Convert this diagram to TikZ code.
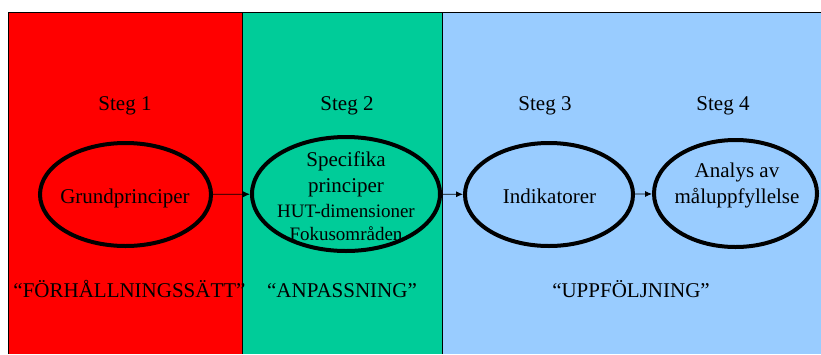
\documentclass[tikz,border=0pt]{standalone}
\usepackage{fontspec}
\setmainfont{Liberation Serif}
\usetikzlibrary{shapes.geometric,arrows.meta}
\definecolor{fasred}{RGB}{255,0,0}
\definecolor{fasgreen}{RGB}{0,204,153}
\definecolor{fasblue}{RGB}{153,204,255}

\begin{document}
\begin{tikzpicture}[x=1pt,y=-1pt,
    fase/.style={draw,ellipse,line width=4pt,inner sep=0pt},
    tekst/.style={anchor=base,inner sep=0pt,font=\fontsize{21}{23}\selectfont},
    flertext/.style={align=center,inner sep=0pt,font=\fontsize{21}{23}\selectfont},
    pil/.style={-{Latex[length=7pt,width=6pt]},line width=0.8pt}]
        \useasboundingbox (0,0) rectangle (821,354);
        % bakgrund
        \fill[fasred] (8,12) rectangle (242,354);
        \fill[fasgreen] (242,12) rectangle (442,354);
        \fill[fasblue] (442,12) rectangle (821,354);
        \draw[line width=1pt] (8,354) -- (8,12) -- (821,12);
        \draw[line width=1pt] (242,12) -- (242,354); \draw[line width=1pt] (442,12) -- (442,354);

        % steg
        \node[tekst] (steg1) at (125,110) {Steg 1};
        \node[tekst] (steg2) at (347,110) {Steg 2};
        \node[tekst] (steg3) at (545,110) {Steg 3};
        \node[tekst] (steg4) at (723,110) {Steg 4};

        % ellipser
        \node[fase,minimum width=171pt,minimum height=103pt] (grund) at (125.5,194.5) {};
        \node[fase,minimum width=188pt,minimum height=114pt] (spec) at (346,194) {};
        \node[fase,minimum width=168pt,minimum height=103pt] (indik) at (549,194.5) {};
        \node[fase,minimum width=163pt,minimum height=107pt] (analys) at (735.5,193.5) {};

        \node[tekst] (grundtxt) at (125,203) {Grundprinciper};
        \node[flertext] (spectxt) at (346,196.5) {Specifika\\[3pt]principer\\[2pt]{\fontsize{19}{22}\selectfont HUT-dimensioner}\\{\fontsize{19}{22}\selectfont Fokusområden}};
        \node[tekst] (indiktxt) at (549.5,203) {Indikatorer};
        \node[flertext] (analystxt) at (737,185) {Analys av\\[3pt]måluppfyllelse};

        \draw[pil] (grund) -- (spec);
        \draw[pil] (spec) -- (indik);
        \draw[pil] (indik) -- (analys);

        % rubriker
        \node[tekst] (forh) at (129.5,297) {“FÖRHÅLLNINGSSÄTT”};
        \node[tekst] (anpass) at (342,297) {“ANPASSNING”};
        \node[tekst] (uppf) at (631,297) {“UPPFÖLJNING”};
    \end{tikzpicture}
\end{document}
